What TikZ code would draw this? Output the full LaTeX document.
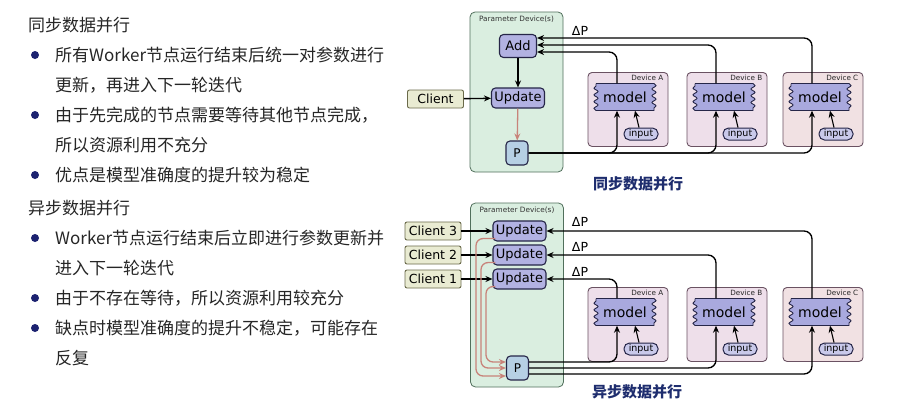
\documentclass[tikz,border=0pt]{standalone}
\usepackage{fontspec}
\setmainfont{DejaVu Sans}
\newfontfamily\cjk{Noto Sans CJK SC}
\usetikzlibrary{arrows.meta,decorations.pathmorphing,calc}
\definecolor{txt}{HTML}{262626}
\definecolor{bul}{HTML}{1C2270}
\definecolor{capc}{HTML}{1E2D6E}
\definecolor{pboxfill}{HTML}{DAEEE0}
\definecolor{pboxborder}{HTML}{51705C}
\definecolor{opfill}{HTML}{B2B2E2}
\definecolor{opborder}{HTML}{262648}
\definecolor{pfill}{HTML}{B6D0E4}
\definecolor{clientfill}{HTML}{E9EBD2}
\definecolor{clientborder}{HTML}{6A6A4A}
\definecolor{devfill}{HTML}{EEDFEA}
\definecolor{devfillc}{HTML}{F1E1E3}
\definecolor{devborder}{HTML}{6A5262}
\definecolor{modelfill}{HTML}{A9A9DE}
\definecolor{inputfill}{HTML}{C9C9EA}
\definecolor{redc}{HTML}{C8837A}
\tikzset{
  cjktext/.style={anchor=west, inner sep=0, text=txt, font=\cjk\fontsize{17}{20}\selectfont},
  bullet/.style={circle, fill=bul, inner sep=0, minimum size=8},
  pbox/.style={draw=pboxborder, fill=pboxfill, rounded corners=5, line width=0.8, minimum width=93, minimum height=160},
  ptitle/.style={font=\fontsize{7.3}{8}\selectfont, text=black!80, inner sep=1},
  opnode/.style={draw=opborder, fill=opfill, rounded corners=4, line width=1.1, font=\fontsize{13}{14}\selectfont, inner sep=2, minimum height=20, minimum width=53},
  pnode/.style={draw=opborder, fill=pfill, rounded corners=4, line width=1.1, font=\fontsize{12}{13}\selectfont, inner sep=2, minimum height=24, minimum width=22},
  clientnode/.style={draw=clientborder, fill=clientfill, rounded corners=2, line width=0.9, font=\fontsize{12.5}{13}\selectfont, inner sep=1, minimum height=18, minimum width=56},
  devbox/.style={draw=devborder, fill=devfill, rounded corners=4, line width=0.9, minimum width=80, minimum height=74},
  devlabel/.style={font=\fontsize{7.2}{8}\selectfont, text=black!85, inner sep=1},
  modelshape/.style={draw=opborder, fill=modelfill, line width=0.9, decoration={snake, amplitude=2, segment length=6.75}},
  modeltext/.style={font=\fontsize{14}{15}\selectfont, inner sep=0, minimum width=58, minimum height=27},
  inputnode/.style={draw=opborder, fill=inputfill, rounded corners=5.5, line width=1, font=\fontsize{9.5}{10}\selectfont, inner sep=0, minimum width=34, minimum height=12},
  arr/.style={-{Stealth[length=7,width=6]}, line width=1.35, black},
  redarr/.style={-{Stealth[length=7,width=6]}, line width=1.3, redc},
  dp/.style={font=\fontsize{12.5}{13}\selectfont, inner sep=0},
  captext/.style={font=\cjk\bfseries\fontsize{15}{16}\selectfont, text=capc, inner sep=0}
}
\newcommand\mydevice[5]{%
  \node[devbox, anchor=north, fill=#5] (dev#1) at (#2,#3) {};
  \node[devlabel, anchor=north east] (dl#1) at ($(dev#1.north east)+(-4,-2)$) {Device #4};
  \coordinate (mc#1) at ($(dev#1.north)+(-3,-25)$);
  \draw[modelshape] ($(mc#1)+(-29,13.5)$) -- ($(mc#1)+(29,13.5)$) decorate{-- ($(mc#1)+(29,-13.5)$)} -- ($(mc#1)+(-29,-13.5)$) decorate{-- ($(mc#1)+(-29,13.5)$)} -- cycle;
  \node[modeltext] (mod#1) at (mc#1) {model};
  \node[inputnode] (in#1) at ($(dev#1.north)+(13,-62)$) {input};
  \draw[arr, line width=1.1] ([xshift=-2]in#1.north) -- ([xshift=10]mod#1.south);
}
\begin{document}
\begin{tikzpicture}[x=1pt,y=1pt]
\fill[white] (0,0) rectangle (900,-407);
\useasboundingbox (0,0) rectangle (900,-407);

% ---------- left text ----------
\node[cjktext] (t1) at (28,-25) {同步数据并行};
\node[bullet] (b1) at (35,-55) {};
\node[cjktext] (t2) at (55,-55) {所有Worker节点运行结束后统一对参数进行};
\node[cjktext] (t3) at (55,-85) {更新，再进入下一轮迭代};
\node[bullet] (b2) at (35,-115) {};
\node[cjktext] (t4) at (55,-115) {由于先完成的节点需要等待其他节点完成，};
\node[cjktext] (t5) at (55,-145) {所以资源利用不充分};
\node[bullet] (b3) at (35,-175) {};
\node[cjktext] (t6) at (55,-175) {优点是模型准确度的提升较为稳定};
\node[cjktext] (t7) at (28,-208) {异步数据并行};
\node[bullet] (b4) at (35,-238) {};
\node[cjktext] (t8) at (55,-238) {Worker节点运行结束后立即进行参数更新并};
\node[cjktext] (t9) at (55,-268) {进入下一轮迭代};
\node[bullet] (b5) at (35,-298) {};
\node[cjktext] (t10) at (55,-298) {由于不存在等待，所以资源利用较充分};
\node[bullet] (b6) at (35,-328) {};
\node[cjktext] (t11) at (55,-328) {缺点时模型准确度的提升不稳定，可能存在};
\node[cjktext] (t12) at (55,-358) {反复};

% ---------- top diagram ----------
\node[pbox] (pd1) at (516.5,-92) {};
\node[ptitle, anchor=north] (pt1) at ($(pd1.north)+(0,-3)$) {Parameter Device(s)};
\node[opnode, minimum width=37, minimum height=23] (add) at (518,-46) {Add};
\node[opnode] (upd) at (518,-98) {Update};
\node[pnode] (p1) at (517,-153) {P};
\node[clientnode] (cl) at (435.5,-99) {Client};
\mydevice{A}{628}{-72}{A}{devfill}
\mydevice{B}{727}{-72}{B}{devfill}
\mydevice{C}{823}{-72}{C}{devfillc}
\draw[arr] (add) -- (upd);
\draw[redarr] (upd) -- (p1);
\draw[arr] (cl) -- (upd);
\draw[arr, rounded corners=8] (p1.east) -| ([xshift=-8]modA.south);
\draw[arr, rounded corners=8] (p1.east) -| ([xshift=-8]modB.south);
\draw[arr, rounded corners=8] (p1.east) -| ([xshift=-8]modC.south);
\draw[arr, rounded corners=8] ([xshift=-8]modC.north) |- ([yshift=8]add.east);
\draw[arr, rounded corners=8] ([xshift=-8]modB.north) |- ([yshift=1]add.east);
\draw[arr, rounded corners=8] ([xshift=-8]modA.north) |- ([yshift=-6]add.east);
\node[dp] (dp1) at (580,-31) {ΔP};
\node[captext] (c1) at (638,-184) {同步数据并行};

% ---------- bottom diagram ----------
\node[pbox, minimum height=184] (pd2) at (517,-295) {};
\node[ptitle, anchor=north] (pt2) at ($(pd2.north)+(0,-3)$) {Parameter Device(s)};
\node[opnode] (u3) at (519.5,-231) {Update};
\node[opnode] (u2) at (519.5,-255) {Update};
\node[opnode] (u1) at (519.5,-279) {Update};
\node[pnode] (p2) at (517.5,-368) {P};
\node[clientnode] (c3) at (433,-231) {Client 3};
\node[clientnode] (c2) at (433,-255) {Client 2};
\node[clientnode] (c1b) at (433,-279) {Client 1};
\mydevice{A2}{628}{-287}{A}{devfill}
\mydevice{B2}{727}{-287}{B}{devfill}
\mydevice{C2}{823}{-287}{C}{devfillc}
\draw[arr] (c3) -- (u3);
\draw[arr] (c2) -- (u2);
\draw[arr] (c1b) -- (u1);
\draw[redarr, rounded corners=7] ([xshift=3,yshift=3]u3.south west) -| (476,-376) -- ([yshift=-8]p2.west);
\draw[redarr, rounded corners=7] ([xshift=3,yshift=3]u2.south west) -| (481,-368) -- (p2.west);
\draw[redarr, rounded corners=7] ([xshift=3,yshift=3]u1.south west) -| (486,-362) -- ([yshift=6]p2.west);
\draw[arr, rounded corners=8] ([xshift=-8]modC2.north) |- (u3.east);
\draw[arr, rounded corners=8] ([xshift=-8]modB2.north) |- (u2.east);
\draw[arr, rounded corners=8] ([xshift=-8]modA2.north) |- (u1.east);
\draw[arr, rounded corners=8] ([yshift=6]p2.east) -| ([xshift=-8]modA2.south);
\draw[arr, rounded corners=8] (p2.east) -| ([xshift=-8]modB2.south);
\draw[arr, rounded corners=8] ([yshift=-6]p2.east) -| ([xshift=-8]modC2.south);
\node[dp] (dq3) at (580,-222) {ΔP};
\node[dp] (dq2) at (580,-247) {ΔP};
\node[dp] (dq1) at (580,-272) {ΔP};
\node[captext] (c2cap) at (637,-392) {异步数据并行};
\end{tikzpicture}
\end{document}
